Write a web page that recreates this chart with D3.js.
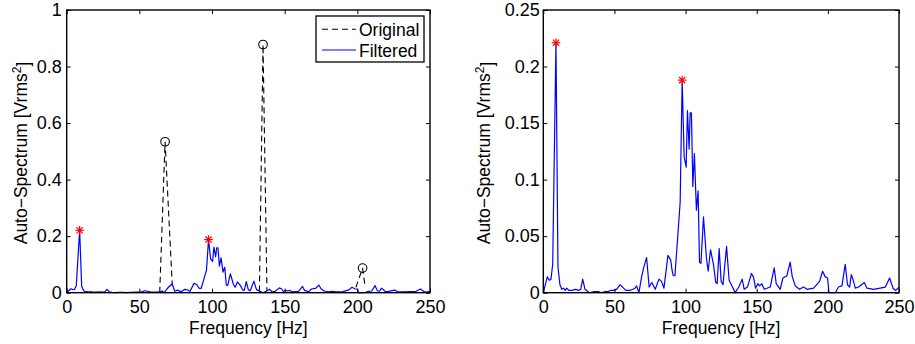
<!DOCTYPE html>
<html>
<head>
<meta charset="utf-8">
<script src="https://cdn.jsdelivr.net/npm/d3@7"></script>
<style>
  body { margin: 0; background: #fff; }
  text { font-family: "Liberation Sans", Arial, Helvetica, sans-serif; }
</style>
</head>
<body>
<div id="chart"></div>
<script>
// frequency [Hz] of each vertex of the filtered spectrum
var freq = [0, 2.8, 4.2, 5.4, 6.6, 8.9, 10.3, 11.7, 13, 14.2, 15.5, 16.5, 18, 20, 22.7, 25, 26.3, 27.7, 29.3, 31.2,
  32.8, 36, 38.6, 41, 43.3, 45.5, 47.3, 49.2, 51.5, 53.9, 55.7, 58, 60.9, 63, 64.4, 65.6, 67.2, 69.1, 70.5, 72.6,
  74.4, 76.3, 78.7, 81.3, 83.1, 84.8, 87.6, 89.5, 90.5, 91.3, 92.5, 94.4, 96.2, 97.6, 99, 100.4, 101.3, 102.5, 103.2, 104.1,
  105.1, 106.2, 107.6, 108.8, 109.8, 110.8, 112.6, 114.7, 115.9, 117.5, 119.6, 121.2, 122.2, 123.6, 125, 126.3, 128.8, 130.6, 133.4, 134.8,
  137.4, 139.8, 141.2, 143.5, 146.3, 147.7, 149.2, 150.8, 152, 153.6, 155.3, 159.5, 162.3, 163.7, 166.5, 168.4, 171.2, 173.5, 175, 177.1,
  180.1, 182.9, 185.3, 190, 194.2, 196.3, 198.2, 199.8, 200.8, 205.2, 207.5, 209.9, 212.2, 213.8, 215.3, 216.5, 217.6, 219.3, 221.6, 225.6,
  227.5, 232.2, 240.4, 243.4, 245.8, 247.7, 250];

// filtered auto-spectrum [Vrms^2]
var filtered = [0, 0.014, 0.011, 0.012, 0.025, 0.221, 0.023, 0.007, 0.003, 0.004, 0.002, 0.004, 0.002, 0.002, 0.003, 0.002, 0.003, 0.012, 0.003, 0.001,
  0, 0.001, 0.001, 0, 0.001, 0.001, 0.002, 0.002, 0.003, 0.007, 0.005, 0.002, 0.002, 0.003, 0.004, 0.006, 0, 0.014, 0.022, 0.031,
  0.005, 0.009, 0.003, 0.012, 0.01, 0.004, 0.033, 0.029, 0.02, 0.015, 0.015, 0.048, 0.08, 0.188, 0.12, 0.111, 0.161, 0.127, 0.159, 0.159,
  0.094, 0.123, 0.073, 0.09, 0.027, 0.026, 0.067, 0.03, 0.019, 0.038, 0.025, 0.009, 0.008, 0.039, 0.01, 0.007, 0.041, 0.011, 0.004, 0,
  0.005, 0.012, 0.003, 0.005, 0.017, 0.014, 0.004, 0.008, 0.006, 0.008, 0.003, 0.005, 0.022, 0.008, 0.003, 0.013, 0.015, 0.027, 0.014, 0.006,
  0.003, 0.005, 0.003, 0.004, 0.01, 0.019, 0.014, 0.013, 0, 0, 0.005, 0.006, 0.025, 0.007, 0.005, 0.016, 0.012, 0.004, 0.005, 0.009,
  0.004, 0.003, 0.005, 0.013, 0.004, 0.002, 0.005];

// original spectrum where it differs from the filtered one (three removed peaks)
var origFreq = [[64, 67.7, 72.6], [132.6, 135.1, 137.8], [199, 203.6, 205.4]];
var origVals = [[0, 0.534, 0.031], [0.004, 0.878, 0.006], [0.019, 0.087, 0.019]];

// detected peaks of the filtered spectrum
var peakFreq = [8.9, 97.6];
var peakVals = [0.221, 0.188];

var xTicks = [0, 50, 100, 150, 200, 250];
var yTicksLeft = [0, 0.2, 0.4, 0.6, 0.8, 1];
var yTicksRight = [0, 0.05, 0.1, 0.15, 0.2, 0.25];

var xLabel = "Frequency [Hz]";
var legendNames = ["Original", "Filtered"];

var svg = d3.select("#chart")
  .append("svg")
  .attr("width", 915)
  .attr("height", 344);

var fontSize = 17.5;
var tickFont = 18;

function drawPanel(box, yMax, yTicks, showOriginal) {
  var g = svg.append("g");

  var x = d3.scaleLinear().domain([0, 250]).range([box.left, box.right]);
  var y = d3.scaleLinear().domain([0, yMax]).range([box.bottom, box.top]);

  // original (dashed) under the filtered line
  if (showOriginal) {
    origFreq.forEach(function(fs, i) {
      var pts = fs.map(function(f, j) { return [f, origVals[i][j]]; });
      g.append("path")
        .datum(pts)
        .attr("fill", "none")
        .attr("stroke", "#000")
        .attr("stroke-width", 1.1)
        .attr("stroke-dasharray", "6,4")
        .attr("d", d3.line().x(function(d) { return x(d[0]); }).y(function(d) { return y(d[1]); }));
    });
  }

  var line = d3.line()
    .x(function(d, i) { return x(freq[i]); })
    .y(function(d) { return y(d); });

  g.append("path")
    .datum(filtered)
    .attr("fill", "none")
    .attr("stroke", "#0000ff")
    .attr("stroke-width", 1.2)
    .attr("stroke-linejoin", "round")
    .attr("d", line);

  // circles on the original peaks
  if (showOriginal) {
    origFreq.forEach(function(fs, i) {
      g.append("circle")
        .attr("cx", x(fs[1]))
        .attr("cy", y(origVals[i][1]))
        .attr("r", 4.3)
        .attr("fill", "none")
        .attr("stroke", "#000")
        .attr("stroke-width", 1.1);
    });
  }

  // red asterisks on the filtered peaks
  peakFreq.forEach(function(f, i) {
    var cx = x(f), cy = y(peakVals[i]), s = 4.3, d = s * 0.72;
    var star = g.append("g").attr("stroke", "#ff0000").attr("stroke-width", 1.2);
    star.append("line").attr("x1", cx - s).attr("x2", cx + s).attr("y1", cy).attr("y2", cy);
    star.append("line").attr("x1", cx).attr("x2", cx).attr("y1", cy - s).attr("y2", cy + s);
    star.append("line").attr("x1", cx - d).attr("x2", cx + d).attr("y1", cy - d).attr("y2", cy + d);
    star.append("line").attr("x1", cx - d).attr("x2", cx + d).attr("y1", cy + d).attr("y2", cy - d);
  });

  // axes, ticks pointing inwards on all four sides
  var fmt = function(d) { return String(d); };

  g.append("g")
    .attr("transform", "translate(0," + box.bottom + ")")
    .call(d3.axisBottom(x).tickValues(xTicks).tickFormat(fmt).tickSizeInner(-4).tickSizeOuter(0).tickPadding(8));
  g.append("g")
    .attr("transform", "translate(" + box.left + ",0)")
    .call(d3.axisLeft(y).tickValues(yTicks).tickFormat(fmt).tickSizeInner(-4).tickSizeOuter(0).tickPadding(box.pad));
  g.append("g")
    .attr("transform", "translate(0," + box.top + ")")
    .call(d3.axisTop(x).tickValues(xTicks).tickFormat("").tickSizeInner(-4).tickSizeOuter(0));
  g.append("g")
    .attr("transform", "translate(" + box.right + ",0)")
    .call(d3.axisRight(y).tickValues(yTicks).tickFormat("").tickSizeInner(-4).tickSizeOuter(0));

  g.selectAll(".domain").remove();
  g.selectAll(".tick line").attr("stroke", "#000").attr("stroke-width", 1);
  g.selectAll(".tick text")
    .attr("fill", "#000")
    .style("font-size", tickFont + "px")
    .style("font-family", "'Liberation Sans', Arial, sans-serif");

  // axes box
  g.append("rect")
    .attr("x", box.left)
    .attr("y", box.top)
    .attr("width", box.right - box.left)
    .attr("height", box.bottom - box.top)
    .attr("fill", "none")
    .attr("stroke", "#000")
    .attr("stroke-width", 1.4);

  // axis titles
  g.append("text")
    .attr("x", (box.left + box.right) / 2)
    .attr("y", 334)
    .attr("text-anchor", "middle")
    .style("font-size", fontSize + "px")
    .text(xLabel);

  var yt = g.append("text")
    .attr("transform", "translate(" + box.ytitle + ",153) rotate(-90)")
    .attr("text-anchor", "middle")
    .style("font-size", fontSize + "px");
  yt.append("tspan").text("Auto\u2212Spectrum [Vrms");
  yt.append("tspan").attr("dy", "-0.5em").style("font-size", "12px").text("2");
  yt.append("tspan").attr("dy", "0.5em").text("]");

  return g;
}

var leftPanel = drawPanel({left: 66.7, right: 430, top: 10, bottom: 292.7, ytitle: 26.5, pad: 5}, 1, yTicksLeft, true);
drawPanel({left: 543.3, right: 899, top: 10, bottom: 292.7, ytitle: 490, pad: 3.5}, 0.25, yTicksRight, false);

// handmade legend
var legend = leftPanel.append("g");
legend.append("rect")
  .attr("x", 316).attr("y", 16)
  .attr("width", 108).attr("height", 46)
  .attr("fill", "#fff")
  .attr("stroke", "#000")
  .attr("stroke-width", 1.3);
legend.append("line")
  .attr("x1", 322).attr("x2", 356).attr("y1", 29.3).attr("y2", 29.3)
  .attr("stroke", "#000").attr("stroke-width", 1.1).attr("stroke-dasharray", "6,4");
legend.append("line")
  .attr("x1", 322).attr("x2", 356).attr("y1", 50).attr("y2", 50)
  .attr("stroke", "#0000ff").attr("stroke-width", 1.2);
legend.append("text").attr("x", 359).attr("y", 36).style("font-size", fontSize + "px").text(legendNames[0]);
legend.append("text").attr("x", 359).attr("y", 56.5).style("font-size", fontSize + "px").text(legendNames[1]);
</script>
</body>
</html>
